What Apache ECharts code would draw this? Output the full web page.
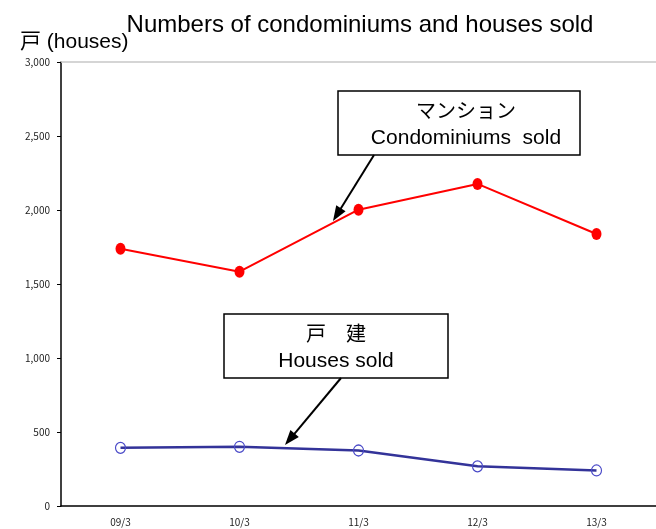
<!DOCTYPE html>
<html>
<head>
<meta charset="utf-8">
<script src="https://cdn.jsdelivr.net/npm/echarts@6/dist/echarts.min.js"></script>
<style>
  html, body { margin: 0; padding: 0; background: #fff; }
  #chart { width: 656px; height: 529px; }
</style>
</head>
<body>
<div id="chart"></div>
<script>
// Fiscal year-end periods
const periods = ['09/3', '10/3', '11/3', '12/3', '13/3'];
// Units sold
const condominiums = [1738, 1583, 2002, 2176, 1838];
const houses = [393, 400, 375, 268, 240];

const FONT = '"Liberation Sans", Arial, "Noto Sans CJK JP", sans-serif';
const TICK_FONT = '"Noto Sans CJK JP", "DejaVu Sans Condensed", sans-serif';

// Straight arrow with a filled triangular head
function arrow(x1, y1, x2, y2) {
  const dx = x2 - x1, dy = y2 - y1;
  const len = Math.hypot(dx, dy);
  const ux = dx / len, uy = dy / len;
  const hl = 15, hw = 5.5;
  const bx = x2 - ux * hl, by = y2 - uy * hl;
  const px = -uy * hw, py = ux * hw;
  return [
    { type: 'line', shape: { x1: x1, y1: y1, x2: bx + ux * 2, y2: by + uy * 2 },
      style: { stroke: '#000', lineWidth: 2 } },
    { type: 'polygon', shape: { points: [[x2, y2], [bx + px, by + py], [bx - px, by - py]] },
      style: { fill: '#000' } }
  ];
}

// Boxed two-line caption (Japanese over English)
function labelBox(x, y, w, h, line1, line2, textShift) {
  const cx = x + w / 2 + (textShift || 0);
  return [
    { type: 'rect', shape: { x: x, y: y, width: w, height: h },
      style: { fill: '#fff', stroke: '#000', lineWidth: 1.5 } },
    { type: 'text', x: cx, y: y + h * 0.31,
      style: { text: line1, font: '20px "Noto Sans CJK JP", sans-serif', fill: '#000',
               align: 'center', verticalAlign: 'middle' } },
    { type: 'text', x: cx, y: y + h * 0.74,
      style: { text: line2, font: '21px ' + FONT, fill: '#000',
               align: 'center', verticalAlign: 'middle' } }
  ];
}

const chart = echarts.init(document.getElementById('chart'));
chart.setOption({
  animation: false,
  backgroundColor: '#fff',
  title: {
    text: 'Numbers of condominiums and houses sold',
    left: 355, top: 8, textAlign: 'center',
    textStyle: { fontFamily: FONT, fontSize: 24, fontWeight: 'normal', color: '#000' }
  },
  grid: { left: 61, top: 62, width: 600, height: 444 },
  xAxis: [{
    type: 'category',
    data: periods,
    boundaryGap: true,
    axisLine: { lineStyle: { color: '#000', width: 1.5 } },
    axisTick: { inside: true, length: 4, lineStyle: { color: '#000' } },
    axisLabel: { fontFamily: TICK_FONT, fontSize: 10, color: '#222', margin: 11 }
  }, {
    type: 'category',
    position: 'top',
    data: periods,
    axisLine: { lineStyle: { color: '#c8c8c8', width: 1.5 } },
    axisTick: { show: false },
    axisLabel: { show: false }
  }],
  yAxis: {
    type: 'value',
    min: 0, max: 3000, interval: 500,
    name: '戸 (houses)',
    nameLocation: 'end',
    nameGap: 9,
    nameTextStyle: { fontFamily: FONT, fontSize: 21, color: '#000', align: 'left', padding: [0, 0, 0, -41] },
    axisLine: { show: true, lineStyle: { color: '#000', width: 1.5 } },
    axisTick: { show: true, length: 4, lineStyle: { color: '#000' } },
    splitLine: { show: false },
    axisLabel: {
      fontFamily: TICK_FONT, fontSize: 10, color: '#222', margin: 11,
      formatter: v => v.toLocaleString('en-US')
    }
  },
  series: [{
    name: 'Condominiums sold',
    type: 'line',
    data: condominiums,
    symbol: 'circle',
    symbolSize: [10, 12],
    lineStyle: { color: '#ff0000', width: 2 },
    itemStyle: { color: '#ff0000' },
    z: 3
  }, {
    name: 'Houses sold',
    type: 'line',
    data: houses,
    symbol: 'circle',
    symbolSize: [10, 11],
    lineStyle: { color: '#333399', width: 2.5 },
    itemStyle: { color: 'rgba(255,255,255,0)', borderColor: '#4a4ac8', borderWidth: 1.2 },
    z: 3
  }],
  graphic: [
    ...labelBox(338, 91, 242, 64, 'マンション', 'Condominiums  sold', 7),
    ...arrow(374, 155, 333, 221),
    ...labelBox(224, 314, 224, 64, '戸　建', 'Houses sold', 0),
    ...arrow(341, 378, 285, 445)
  ]
});
</script>
</body>
</html>
